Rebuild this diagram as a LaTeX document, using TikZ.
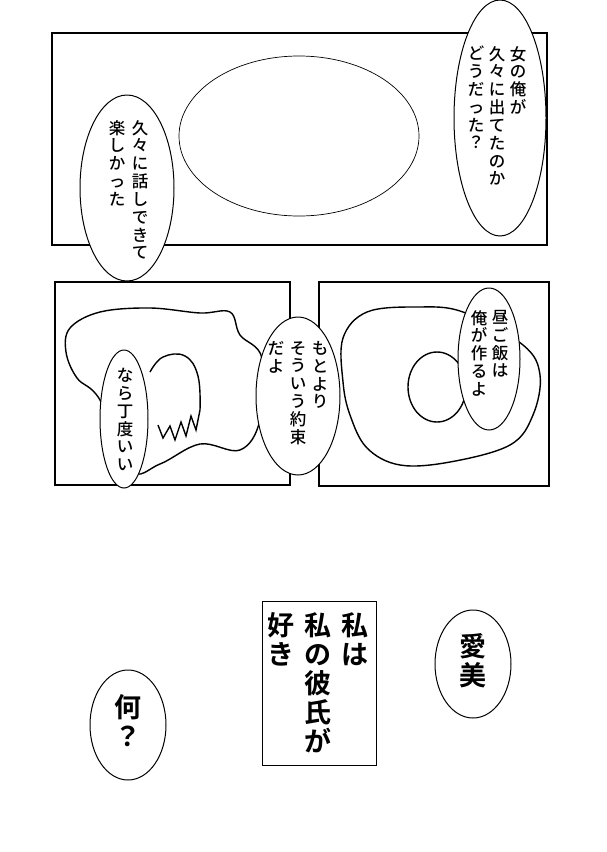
\documentclass[tikz,border=0pt]{standalone}
\usepackage{fontspec}
\newfontfamily\jp{Noto Sans CJK JP Medium}
\newfontfamily\jpb{Noto Sans CJK JP Bold}
\def\vtX#1{\ifx\relax#1\else\hbox to 1em{\hss#1\hss}\expandafter\vtX\fi}
\newcommand\vt[1]{\vbox{\baselineskip=1.08em\lineskiplimit=-20pt\lineskip=0pt\vtX#1\relax}}
\begin{document}
\begin{tikzpicture}[x=1pt,y=-1pt,
  pan/.style={draw,line width=1.1pt},
  bub/.style={draw,fill=white,line width=1pt},
  blob/.style={draw,line width=1.4pt},
  col/.style={anchor=north,inner sep=0pt,font=\jp\fontsize{16.5}{16.5}\selectfont},
  big/.style={anchor=north,inner sep=0pt,font=\jpb\fontsize{27}{27}\selectfont}]
\useasboundingbox (0,0) rectangle (607,852);
\fill[white] (0,0) rectangle (607,852);
% top panel
\draw[pan] (52,33) rectangle (547,245);
\draw[line width=0.7pt] (299,136) ellipse [x radius=120,y radius=80];
\draw[bub] (500,118) ellipse [x radius=46,y radius=118];
\node[col] (t1) at (518,46) {\vt{女の俺が}};
\node[col] (t2) at (497,46) {\vt{久々に出てたのか}};
\node[col] (t3) at (476,46) {\vt{どうだった？}};
\draw[bub] (127,188) ellipse [x radius=47,y radius=93];
\node[col] (l1) at (140,120) {\vt{久々に話しできて}};
\node[col] (l2) at (117,120) {\vt{楽しかった}};
% middle panels
\draw[pan] (55,282) rectangle (290,485);
\draw[pan] (319,282) rectangle (549,486);
\draw[blob] plot[smooth cycle,tension=0.6] coordinates {(70,328) (100,312) (150,308) (200,313) (230,312) (240,335) (262,358) (260,420) (240,450) (200,444) (160,464) (130,470) (100,400) (77,378) (66,352)};
\draw[blob,fill=white] plot[smooth,tension=0.7] coordinates {(150,372) (163,357) (185,356) (198,376) (200,410)}
  -- (196,430) -- (191,416) -- (186,436) -- (181,422) -- (175,440) -- (170,426) -- (163,438) -- (158,425);
\draw[blob] plot[smooth cycle,tension=0.6] coordinates {(343,338) (367,312) (417,307) (463,312) (523,345) (540,375) (533,415) (510,445) (450,462) (400,465) (367,448) (350,415) (343,382)};
\draw[blob] (437,387) ellipse [x radius=29,y radius=35];
\draw[bub] (124,419) ellipse [x radius=24,y radius=69];
\node[col] (n1) at (125,368) {\vt{なら丁度いい}};
\draw[bub] (298,396) ellipse [x radius=42,y radius=79];
\node[col] (m1) at (320,341) {\vt{もとより}};
\node[col] (m2) at (298,341) {\vt{そういう約束}};
\node[col] (m3) at (276,341) {\vt{だよ}};
\draw[bub] (489,359) ellipse [x radius=31,y radius=71];
\node[col] (r1) at (500,310) {\vt{昼ご飯は}};
\node[col] (r2) at (479,310) {\vt{俺が作るよ}};
% bottom
\draw[line width=1pt] (262,601) rectangle (376,765);
\node[big] (b1) at (355,612) {\vt{私は}};
\node[big] (b2) at (318,612) {\vt{私の彼氏が}};
\node[big] (b3) at (281,612) {\vt{好き}};
\draw[line width=1pt] (473,664) ellipse [x radius=38,y radius=54];
\node[big] (a1) at (473,633) {\vt{愛美}};
\draw[line width=1pt] (128,725) ellipse [x radius=38,y radius=55];
\node[big] (q1) at (128,694) {\vt{何？}};
\end{tikzpicture}
\end{document}
